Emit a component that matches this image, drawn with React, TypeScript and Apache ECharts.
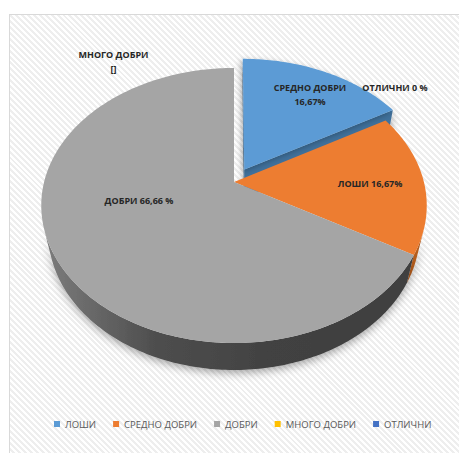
import React, { useEffect, useRef } from "react";
import * as echarts from "echarts";

// ---- data ----
const categories = ["ЛОШИ", "СРЕДНО ДОБРИ", "ДОБРИ", "МНОГО ДОБРИ", "ОТЛИЧНИ"];
const values = [16.67, 16.67, 66.66, 0, 0];
const labelTexts = ["СРЕДНО ДОБРИ\n16,67%", "ЛОШИ 16,67%", "ДОБРИ 66,66 %", "МНОГО ДОБРИ\n[]", "ОТЛИЧНИ 0 %"];

// ---- style ----
const colors = ["#5B9BD5", "#ED7D31", "#A5A5A5", "#FFC000", "#4472C4"];
const sideColors: any[] = [
  "#41719c",
  "#b55d1f",
  {
    type: "linear", x: 0, y: 0, x2: 1, y2: 0,
    colorStops: [
      { offset: 0, color: "#7c7c7c" },
      { offset: 0.3, color: "#4e4e4e" },
      { offset: 0.6, color: "#424242" },
      { offset: 1, color: "#3f3f3f" },
    ],
  },
  "#bf9000",
  "#2f5597",
];
const explode = [0.11, 0, 0, 0, 0];
const labelPos = [[310, 94], [370, 183], [139, 200], [113.5, 61.5], [395, 87]];

// projection constants
const CX = 234, CY = 182, F = 790, D = 4.16, T = 0.2165;
const sE = 0.703, cE = Math.sqrt(1 - sE * sE);

function proj(X: number, Y: number, Z: number): number[] {
  const w = D - Y * sE - Z * cE;
  const down = -Y * cE + Z * sE;
  return [CX + (F * X) / w, CY + (F * down) / w];
}

const total = values.reduce((a, b) => a + b, 0);
const cumStart: number[] = [];
values.reduce((acc, v, i) => { cumStart[i] = acc; return acc + v; }, 0);

function renderItem(params: any, api: any) {
  const idx = params.seriesIndex;
  const start = api.value(0);
  const v = api.value(1);
  if (!v) return { type: "group", children: [] };
  const a0 = (start / total) * Math.PI * 2;
  const a1 = ((start + v) / total) * Math.PI * 2;
  const mid = (a0 + a1) / 2;
  const ex = explode[idx] || 0;
  const ox = ex * Math.sin(mid), oz = -ex * Math.cos(mid);
  const rim = (a: number, y: number) => proj(ox + Math.sin(a), y, oz - Math.cos(a));
  const arc = (from: number, to: number, y: number) => {
    const n = Math.max(2, Math.ceil(((to - from) * 180) / Math.PI) + 1);
    const pts: number[][] = [];
    for (let i = 0; i <= n; i++) pts.push(rim(from + ((to - from) * i) / n, y));
    return pts;
  };
  const children: any[] = [];
  const shadow = { shadowBlur: 8, shadowColor: "rgba(0,0,0,0.35)", shadowOffsetY: 3 };

  // outer wall (visible range)
  const k = 1 / (D * cE);
  const lo = Math.acos(-k), hi = Math.PI * 2 - lo;
  const w0 = Math.max(a0, lo), w1 = Math.min(a1, hi);
  if (w1 > w0) {
    const pts = arc(w0, w1, 0).concat(arc(w0, w1, -T).reverse());
    children.push({
      type: "polygon", z2: 1,
      shape: { points: pts },
      style: { fill: sideColors[idx], ...shadow },
    });
  }
  // cut faces of exploded slices
  if (ex > 0) {
    const camX = 0, camZ = D * cE;
    const faces = [
      { a: a0, n: [-Math.cos(a0), -Math.sin(a0)] },
      { a: a1, n: [Math.cos(a1), Math.sin(a1)] },
    ];
    faces.forEach((f) => {
      const dot = (camX - ox) * f.n[0] + (camZ - oz) * f.n[1];
      if (dot > 1e-6) {
        const pts = [
          proj(ox, 0, oz), rim(f.a, 0), rim(f.a, -T), proj(ox, -T, oz),
        ];
        children.push({
          type: "polygon", z2: 1,
          shape: { points: pts },
          style: { fill: sideColors[idx], ...shadow },
        });
      }
    });
  }
  // top face
  const top = [proj(ox, 0, oz)].concat(arc(a0, a1, 0));
  children.push({
    type: "polygon", z2: 2,
    shape: { points: top },
    style: ex > 0
      ? { fill: colors[idx], shadowBlur: 6, shadowColor: "rgba(0,0,0,0.3)", shadowOffsetX: -2, shadowOffsetY: 2 }
      : { fill: colors[idx] },
  });
  return { type: "group", children };
}

export default function App() {
  const ref = useRef<HTMLDivElement>(null);
  useEffect(() => {
    if (!ref.current) return;
    const chart = echarts.init(ref.current, undefined, { renderer: "svg" });
    const series = categories.map((name, i) => ({
      type: "custom",
      name,
      coordinateSystem: "none",
      itemStyle: { color: colors[i] },
      renderItem,
      data: [{ name, value: [cumStart[i], values[i]] }],
      silent: true,
    }));
    chart.setOption({
      animation: false,
      backgroundColor: "transparent",
      legend: {
        data: categories,
        left: 49,
        top: 414,
        itemWidth: 6,
        itemHeight: 6,
        itemGap: 17,
        icon: "rect",
        selectedMode: false,
        textStyle: { color: "#595959", fontSize: 9.5, fontFamily: "Open Sans" },
      },
      graphic: labelTexts.map((t, i) => ({
        type: "text",
        z: 100,
        x: labelPos[i][0],
        y: labelPos[i][1],
        style: {
          text: t,
          fill: "#262626",
          font: 'bold 9px "Open Sans"',
          textAlign: "center",
          textVerticalAlign: "middle",
          lineHeight: 14,
        },
      })),
      series,
    });
    return () => chart.dispose();
  }, []);
  return (
    <div style={{ position: "absolute", left: 0, top: 0, width: 459, height: 453, overflow: "hidden", background: "#fff" }}>
      <div
        style={{
          position: "absolute", left: 9, top: 14, width: 450, height: 439,
          boxSizing: "border-box",
          borderTop: "1px solid #d9d9d9", borderLeft: "1px solid #d9d9d9",
          background: "repeating-linear-gradient(45deg, #ffffff 0px, #ffffff 2.1px, #eeeeee 2.1px, #eeeeee 4.2px)",
        }}
      />
      <div ref={ref} style={{ position: "absolute", left: 0, top: 0, width: 459, height: 453 }} />
    </div>
  );
}
